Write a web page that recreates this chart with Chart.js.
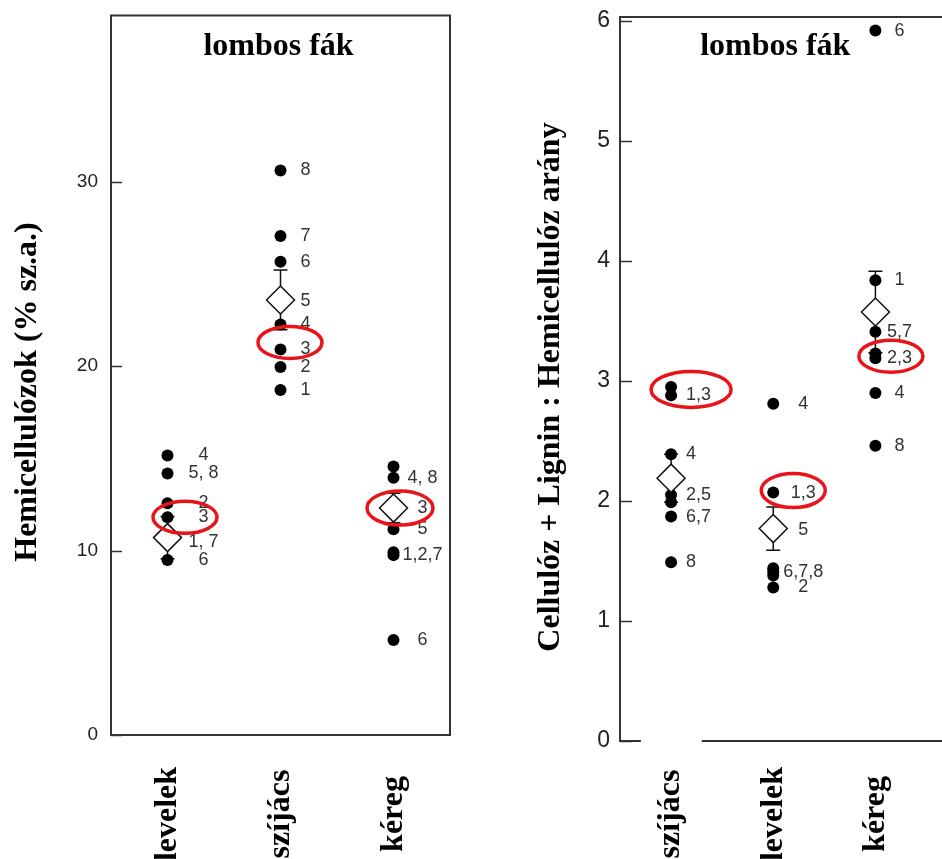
<!DOCTYPE html>
<html>
<head>
<meta charset="utf-8">
<script src="https://cdn.jsdelivr.net/npm/chart.js@4.4.1/dist/chart.umd.min.js"></script>
<style>
  html, body { margin: 0; padding: 0; background: #fff; overflow: hidden; }
  #wrap { position: relative; width: 942px; height: 859px; }
  #left { position: absolute; left: 0; top: 0; width: 470px; height: 859px; }
  #right { position: absolute; left: 470px; top: 0; width: 472px; height: 859px; }
</style>
</head>
<body>
<div id="wrap">
  <div id="left"><canvas id="hemiChart"></canvas></div>
  <div id="right"><canvas id="ratioChart"></canvas></div>
</div>
<script>
// Left panel: hemicellulose content (% dry matter)
const hemiCategories = ['levelek', 'szíjács', 'kéreg'];
const hemiLevelek = [15.15, 14.18, 12.56, 11.8, 10.45, 9.49];
const hemiLevelekLabels = ['4', '5, 8', '2', '3', '1, 7', '6'];
const hemiSzijacs = [30.6, 27.05, 25.65, 23.55, 22.25, 20.9, 19.95, 18.7];
const hemiSzijacsLabels = ['8', '7', '6', '5', '4', '3', '2', '1'];
const hemiKereg = [14.55, 13.95, 12.3, 11.15, 9.9, 9.75, 5.15];
const hemiKeregLabels = ['', '4, 8', '3', '5', '', '1,2,7', '6'];
const hemiMeans = [10.7, 23.58, 12.3];
const hemiErrors = [1.15, 1.62, 0.8];
const hemiCircled = ['3', '3', '3'];
const hemiTicks = [0, 10, 20, 30];

// Right panel: (cellulose + lignin) : hemicellulose ratio
const ratioCategories = ['szíjács', 'levelek', 'kéreg'];
const ratioSzijacs = [2.95, 2.88, 2.39, 2.05, 1.99, 1.87, 1.49];
const ratioSzijacsLabels = ['', '1,3', '4', '2,5', '', '6,7', '8'];
const ratioLevelek = [2.81, 2.07, 1.76, 1.44, 1.41, 1.38, 1.28];
const ratioLevelekLabels = ['4', '1,3', '5', '', '6,7,8', '', '2'];
const ratioKereg = [5.92, 3.84, 3.41, 3.23, 3.19, 2.9, 2.46];
const ratioKeregLabels = ['6', '1', '5,7', '', '2,3', '4', '8'];
const ratioMeans = [2.19, 1.77, 3.575];
const ratioErrors = [0.2, 0.18, 0.34];
const ratioCircled = ['1,3', '1,3', '2,3'];
const ratioTicks = [0, 1, 2, 3, 4, 5, 6];

const serif = '"Liberation Serif", "Times New Roman", serif';
const sans = '"Liberation Sans", Arial, sans-serif';

function buildPoints(groups) {
    const pts = [];
    groups.forEach((vals, i) => vals.forEach(v => pts.push({ x: i + 1, y: v })));
    return pts;
}

// draws frame, inward ticks, error bars, point labels, red circles and the texts
function makeDecor(cfg) {
    return {
        id: 'decor_' + cfg.name,
        beforeDatasetsDraw(chart) {
            const { ctx, chartArea: a, scales: { x, y } } = chart;
            ctx.save();
            ctx.strokeStyle = '#333';
            ctx.lineWidth = 2;
            ctx.beginPath();
            if (cfg.fullBox) {
                ctx.rect(a.left, a.top, a.right - a.left, a.bottom - a.top);
            } else {
                const g0 = x.getPixelForValue(cfg.bottomGap[0]);
                const g1 = x.getPixelForValue(cfg.bottomGap[1]);
                ctx.moveTo(chart.width, a.top);
                ctx.lineTo(a.left, a.top);
                ctx.lineTo(a.left, a.bottom);
                ctx.lineTo(g0, a.bottom);
                ctx.moveTo(g1, a.bottom);
                ctx.lineTo(chart.width, a.bottom);
            }
            ctx.stroke();

            // tick marks pointing into the plot
            ctx.lineWidth = 1.5;
            y.ticks.forEach(t => {
                const py = Math.round(y.getPixelForValue(t.value)) + 0.5;
                ctx.beginPath();
                ctx.moveTo(a.left, py);
                ctx.lineTo(a.left + cfg.tickLen, py);
                ctx.stroke();
            });

            // error bars
            ctx.strokeStyle = '#111';
            ctx.lineWidth = 1.5;
            cfg.means.forEach((m, i) => {
                const px = x.getPixelForValue(i + 1);
                const top = y.getPixelForValue(m + cfg.errors[i]);
                const bot = y.getPixelForValue(m - cfg.errors[i]);
                ctx.beginPath();
                ctx.moveTo(px, top);
                ctx.lineTo(px, bot);
                ctx.moveTo(px - 7, top);
                ctx.lineTo(px + 7, top);
                ctx.moveTo(px - 7, bot);
                ctx.lineTo(px + 7, bot);
                ctx.stroke();
            });
            ctx.restore();
        },
        afterDatasetsDraw(chart) {
            const { ctx, scales: { x, y } } = chart;
            ctx.save();
            ctx.font = '18px ' + sans;
            ctx.fillStyle = '#333';
            ctx.textBaseline = 'middle';
            cfg.groups.forEach((vals, i) => {
                const px = x.getPixelForValue(i + 1);
                const lp = cfg.labelPos[i];
                ctx.textAlign = lp.align;
                vals.forEach((v, j) => {
                    const txt = cfg.labels[i][j];
                    if (!txt) return;
                    ctx.fillText(txt, px + lp.dx, y.getPixelForValue(v));
                });
            });

            // red circles around the highlighted labels
            ctx.strokeStyle = '#e8141a';
            ctx.lineWidth = 3.5;
            cfg.circled.forEach((lbl, i) => {
                const j = cfg.labels[i].indexOf(lbl);
                if (j < 0) return;
                const e = cfg.ellipses[i];
                const cx = x.getPixelForValue(i + 1) + e.dx;
                const cy = y.getPixelForValue(cfg.groups[i][j]) + e.dy;
                ctx.beginPath();
                ctx.ellipse(cx, cy, e.rx, e.ry, 0, 0, Math.PI * 2);
                ctx.stroke();
            });
            ctx.restore();
        },
        afterDraw(chart) {
            const { ctx, chartArea: a, scales: { x } } = chart;
            ctx.save();
            ctx.fillStyle = '#000';
            ctx.font = 'bold 32px ' + serif;
            ctx.textAlign = 'center';
            ctx.textBaseline = 'alphabetic';
            ctx.fillText(cfg.title, (a.left + a.right) / 2 + cfg.titleDx, cfg.titleY);

            ctx.save();
            ctx.translate(cfg.yTitleX, cfg.yTitleY);
            ctx.rotate(-Math.PI / 2);
            ctx.fillText(cfg.yTitle, 0, 0);
            ctx.restore();

            ctx.textBaseline = 'middle';
            cfg.categories.forEach((c, i) => {
                ctx.save();
                ctx.translate(x.getPixelForValue(i + 1), cfg.catLabelY);
                ctx.rotate(-Math.PI / 2);
                ctx.fillText(c, 0, 0);
                ctx.restore();
            });
            ctx.restore();
        }
    };
}

function makeChart(canvasId, opts) {
    return new Chart(document.getElementById(canvasId), {
        type: 'scatter',
        data: {
            datasets: [
                {
                    label: 'átlag',
                    data: opts.means.map((m, i) => ({ x: i + 1, y: m })),
                    pointStyle: 'rectRot',
                    pointRadius: 14,
                    backgroundColor: '#fff',
                    borderColor: '#111',
                    borderWidth: 1.5,
                    order: 0
                },
                {
                    label: 'fák',
                    data: buildPoints(opts.groups),
                    pointRadius: 6,
                    backgroundColor: '#000',
                    borderWidth: 0,
                    order: 1
                }
            ]
        },
        options: {
            responsive: true,
            maintainAspectRatio: false,
            animation: false,
            events: [],
            layout: { padding: opts.padding },
            scales: {
                x: {
                    type: 'linear',
                    min: 0.5,
                    max: 3.5,
                    ticks: { display: false },
                    grid: { display: false, drawTicks: false },
                    border: { display: false },
                    afterFit: s => {
                        s.height = opts.xHeight;
                        s.paddingLeft = 0;
                        s.paddingRight = 0;
                    }
                },
                y: {
                    type: 'linear',
                    min: 0,
                    max: opts.yMax,
                    afterBuildTicks: s => { s.ticks = opts.ticks.map(v => ({ value: v })); },
                    ticks: {
                        padding: opts.tickPad,
                        color: '#222',
                        font: { family: sans, size: opts.tickSize }
                    },
                    grid: { display: false, drawTicks: false },
                    border: { display: false },
                    afterFit: s => {
                        s.width = opts.yWidth;
                        s.paddingTop = 0;
                        s.paddingBottom = 0;
                    }
                }
            },
            plugins: {
                legend: { display: false },
                tooltip: { enabled: false }
            }
        },
        plugins: [makeDecor(opts)]
    });
}

makeChart('hemiChart', {
    name: 'hemi',
    padding: { top: 13, right: 20, left: 0, bottom: 0 },
    xHeight: 124,
    yWidth: 111,
    yMax: 39,
    ticks: hemiTicks,
    tickPad: 13,
    tickSize: 19,
    tickLen: 11,
    fullBox: true,
    title: 'lombos fák',
    titleDx: -2,
    titleY: 55,
    yTitle: 'Hemicellulózok (% sz.a.)',
    yTitleX: 36,
    yTitleY: 392,
    categories: hemiCategories,
    catLabelY: 814,
    groups: [hemiLevelek, hemiSzijacs, hemiKereg],
    labels: [hemiLevelekLabels, hemiSzijacsLabels, hemiKeregLabels],
    means: hemiMeans,
    errors: hemiErrors,
    circled: hemiCircled,
    labelPos: [{ dx: 36, align: 'center' }, { dx: 25, align: 'center' }, { dx: 29, align: 'center' }],
    ellipses: [
        { dx: 17.5, dy: 0, rx: 32, ry: 16 },
        { dx: 9.5, dy: -7, rx: 32, ry: 16 },
        { dx: 6.5, dy: 0, rx: 33, ry: 17 }
    ]
});

makeChart('ratioChart', {
    name: 'ratio',
    padding: { top: 17, right: 0, left: 0, bottom: 0 },
    xHeight: 118,
    yWidth: 150,
    yMax: 6.033,
    ticks: ratioTicks,
    tickPad: 10,
    tickSize: 23,
    tickLen: 12,
    fullBox: false,
    bottomGap: [0.705, 1.3],
    title: 'lombos fák',
    titleDx: 2,
    titleY: 55,
    yTitle: 'Cellulóz + Lignin : Hemicellulóz arány',
    yTitleX: 89,
    yTitleY: 387,
    categories: ratioCategories,
    catLabelY: 814,
    groups: [ratioSzijacs, ratioLevelek, ratioKereg],
    labels: [ratioSzijacsLabels, ratioLevelekLabels, ratioKeregLabels],
    means: ratioMeans,
    errors: ratioErrors,
    circled: ratioCircled,
    labelPos: [{ dx: 15, align: 'left' }, { dx: 30, align: 'center' }, { dx: 24, align: 'center' }],
    ellipses: [
        { dx: 20, dy: -6, rx: 40, ry: 18 },
        { dx: 20, dy: -2, rx: 32, ry: 17 },
        { dx: 15.5, dy: -2, rx: 32, ry: 16 }
    ]
});
</script>
</body>
</html>
